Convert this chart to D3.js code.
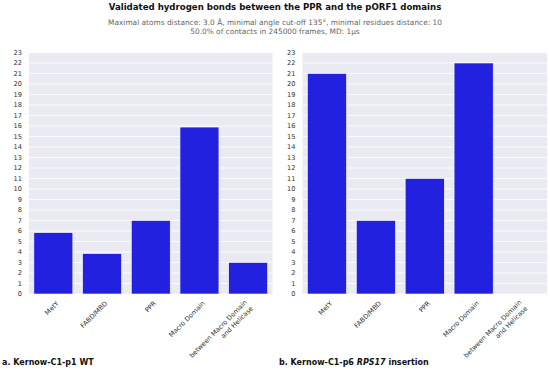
<!DOCTYPE html>
<html><head><meta charset="utf-8">
<script src="https://cdn.jsdelivr.net/npm/d3@7/dist/d3.min.js"></script>
<style>body{margin:0;background:#fff}svg{display:block;font-family:"DejaVu Sans",sans-serif}</style>
</head><body>
<svg id="c" width="550" height="370"></svg>
<script>
const categories = ["MetY", "FABD/MBD", "PPR", "Macro Domain", "between Macro Domain\nand Helicase"];
const valuesWT = [5.85, 3.85, 7, 15.9, 3];
const valuesRPS17 = [21, 7, 11, 22, 0];
const yTicks = d3.range(0, 24);
const title = "Validated hydrogen bonds between the PPR and the pORF1 domains";
const subtitle = ["Maximal atoms distance: 3.0 Å, minimal angle cut-off 135°, minimal residues distance: 10",
                  "50.0% of contacts in 245000 frames, MD: 1µs"];

const svg = d3.select("#c");
svg.append("text").attr("x", 275).attr("y", 10).attr("text-anchor", "middle")
  .attr("font-size", 8.6).attr("font-weight", "bold").attr("fill", "#111").text(title);
subtitle.forEach((s, i) => svg.append("text").attr("x", 275).attr("y", 25 + i * 8.5)
  .attr("text-anchor", "middle").attr("font-size", 7.4).attr("fill", "#666").text(s));

function panel(x0, x1, values) {
  const y = d3.scaleLinear().domain([0, 23]).range([294, 52.5]);
  const x = d3.scaleBand().domain(categories).range([x0, x1]).paddingInner(0.2).paddingOuter(0.1);
  const g = svg.append("g");
  g.append("rect").attr("x", x0).attr("y", 52.5).attr("width", x1 - x0).attr("height", 294 - 52.5).attr("fill", "#eaeaf2");
  g.selectAll("line.grid").data(yTicks).join("line").attr("class", "grid")
    .attr("x1", x0).attr("x2", x1).attr("y1", d => y(d)).attr("y2", d => y(d))
    .attr("stroke", "#fff").attr("stroke-width", 0.8);
  g.selectAll("rect.bar").data(categories.map((c, i) => ({c, v: values[i]})).filter(d => d.v > 0)).join("rect")
    .attr("class", "bar").attr("x", d => x(d.c)).attr("width", x.bandwidth())
    .attr("y", d => y(d.v)).attr("height", d => y(0) - y(d.v))
    .attr("fill", "#2121df").attr("stroke", "#fff").attr("stroke-width", 0.6);
  g.selectAll("text.yt").data(yTicks).join("text").attr("class", "yt")
    .attr("x", x0 - 7).attr("y", d => y(d)).attr("dy", "0.35em").attr("text-anchor", "end")
    .attr("font-size", 6.6).attr("fill", "#333").text(d => d);
  categories.forEach(c => {
    const lines = c.split("\n");
    const n = lines.length;
    const cx = x(c) + x.bandwidth() / 2 + (n > 1 ? 2.5 : 3), cy = n > 1 ? 306 : 301;
    const t = g.append("text").attr("transform", `translate(${cx},${cy}) rotate(-45)`)
      .attr("font-size", 6.6).attr("fill", "#333").attr("text-anchor", "end");
    lines.forEach((l, i) => {
      t.append("tspan").attr("x", 0).attr("y", 4 - (n - 1 - i) * 8.5).text(l);
    });
  });
}
panel(29, 272.5, valuesWT);
panel(302.5, 547, valuesRPS17);

svg.append("text").attr("x", 2).attr("y", 365).attr("font-size", 8).attr("font-weight", "bold").attr("fill", "#111")
  .text("a. Kernow-C1-p1 WT");
const cap = svg.append("text").attr("x", 279).attr("y", 365).attr("font-size", 8).attr("font-weight", "bold").attr("fill", "#111");
cap.append("tspan").text("b. Kernow-C1-p6 ");
cap.append("tspan").attr("font-style", "italic").text("RPS17");
cap.append("tspan").text(" insertion");
</script>
</body></html>
